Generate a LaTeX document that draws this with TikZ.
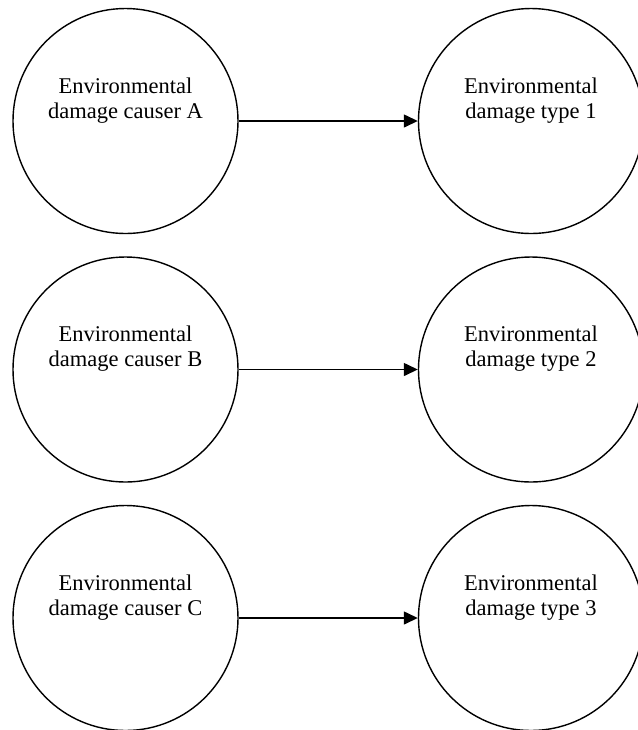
\documentclass[tikz,border=0pt]{standalone}
\usepackage{fontspec}
\setmainfont{Liberation Serif}
\usepackage{tikz}
\usetikzlibrary{arrows.meta}

\begin{document}
\begin{tikzpicture}
               [x=0.5pt, y=-0.5pt,
                blob/.style = {circle, draw, line width=0.7pt, minimum size = 112.5pt, inner sep=0pt},
                txt/.style = {align=center, font=\fontsize{11.25}{12.5}\selectfont, yshift=10.4pt},
                link/.style = {-{Triangle[length=7pt, width=6.5pt]}, line width=0.7pt}]
                \useasboundingbox (0,0) rectangle (638,730);
                % Causers on the left
                \node[blob, label={[txt]center:Environmental\\damage causer A}] (causerA) at (125.5,121) {};
                \node[blob, label={[txt]center:Environmental\\damage causer B}] (causerB) at (125.5,369.5) {};
                \node[blob, label={[txt]center:Environmental\\damage causer C}] (causerC) at (125.5,618) {};
                % Damage types on the right
                \node[blob, label={[txt]center:Environmental\\damage type 1}] (type1) at (531,121) {};
                \node[blob, label={[txt]center:Environmental\\damage type 2}] (type2) at (531,369.5) {};
                \node[blob, label={[txt]center:Environmental\\damage type 3}] (type3) at (531,618) {};
                % Lines
                \path[link] (causerA) edge (type1);
                \path[link] (causerB) edge (type2);
                \path[link] (causerC) edge (type3);
            \end{tikzpicture}
\end{document}
